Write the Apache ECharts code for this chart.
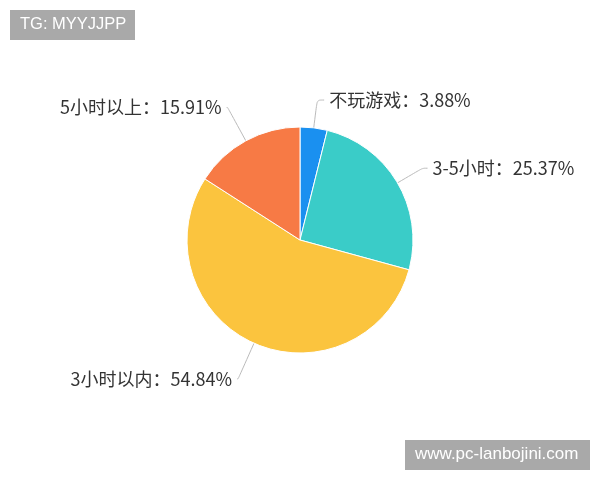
<!DOCTYPE html>
<html>
<head>
<meta charset="utf-8">
<script src="https://cdn.jsdelivr.net/npm/echarts@6/dist/echarts.min.js"></script>
<style>html,body{margin:0;padding:0;background:#fff;}#c{width:600px;height:480px;}</style>
</head>
<body>
<div id="c"></div>
<script>
const categories = ['不玩游戏', '3-5小时', '3小时以内', '5小时以上'];
const values = [3.88, 25.37, 54.84, 15.91];
const colors = ['#1A90F0', '#3ACCC8', '#FBC43E', '#F77A45'];
const lineLen = [28, 29, 39, 38];
const lineLen2 = [7, 5, 1, 1];

const chart = echarts.init(document.getElementById('c'));
chart.setOption({
  backgroundColor: '#fff',
  animation: false,
  graphic: [
    { type: 'rect', shape: { x: 10, y: 10, width: 125, height: 30 }, style: { fill: '#a9a9a9' } },
    { type: 'text', left: 20, top: 16, style: { text: 'TG: MYYJJPP', fill: '#fff', font: '16.5px "Liberation Sans", Arial, sans-serif' } },
    { type: 'rect', shape: { x: 405, y: 440, width: 185, height: 30 }, style: { fill: '#a9a9a9' } },
    { type: 'text', left: 415, top: 446, style: { text: 'www.pc-lanbojini.com', fill: '#fff', font: '17px "Liberation Sans", Arial, sans-serif' } }
  ],
  series: [{
    type: 'pie',
    center: [300, 240],
    radius: 113,
    startAngle: 90,
    clockwise: true,
    data: categories.map((n, i) => ({
      name: n, value: values[i], itemStyle: { color: colors[i] },
      labelLine: { length: lineLen[i], length2: lineLen2[i] }
    })),
    itemStyle: { borderColor: '#fff', borderWidth: 1 },
    label: {
      formatter: p => p.name + '：' + p.value.toFixed(2) + '%',
      color: '#333',
      fontSize: 18,
      fontFamily: '"Noto Sans CJK SC", sans-serif'
    },
    labelLine: { smooth: true, lineStyle: { color: '#bbb', width: 1 } }
  }]
});
</script>
</body>
</html>
